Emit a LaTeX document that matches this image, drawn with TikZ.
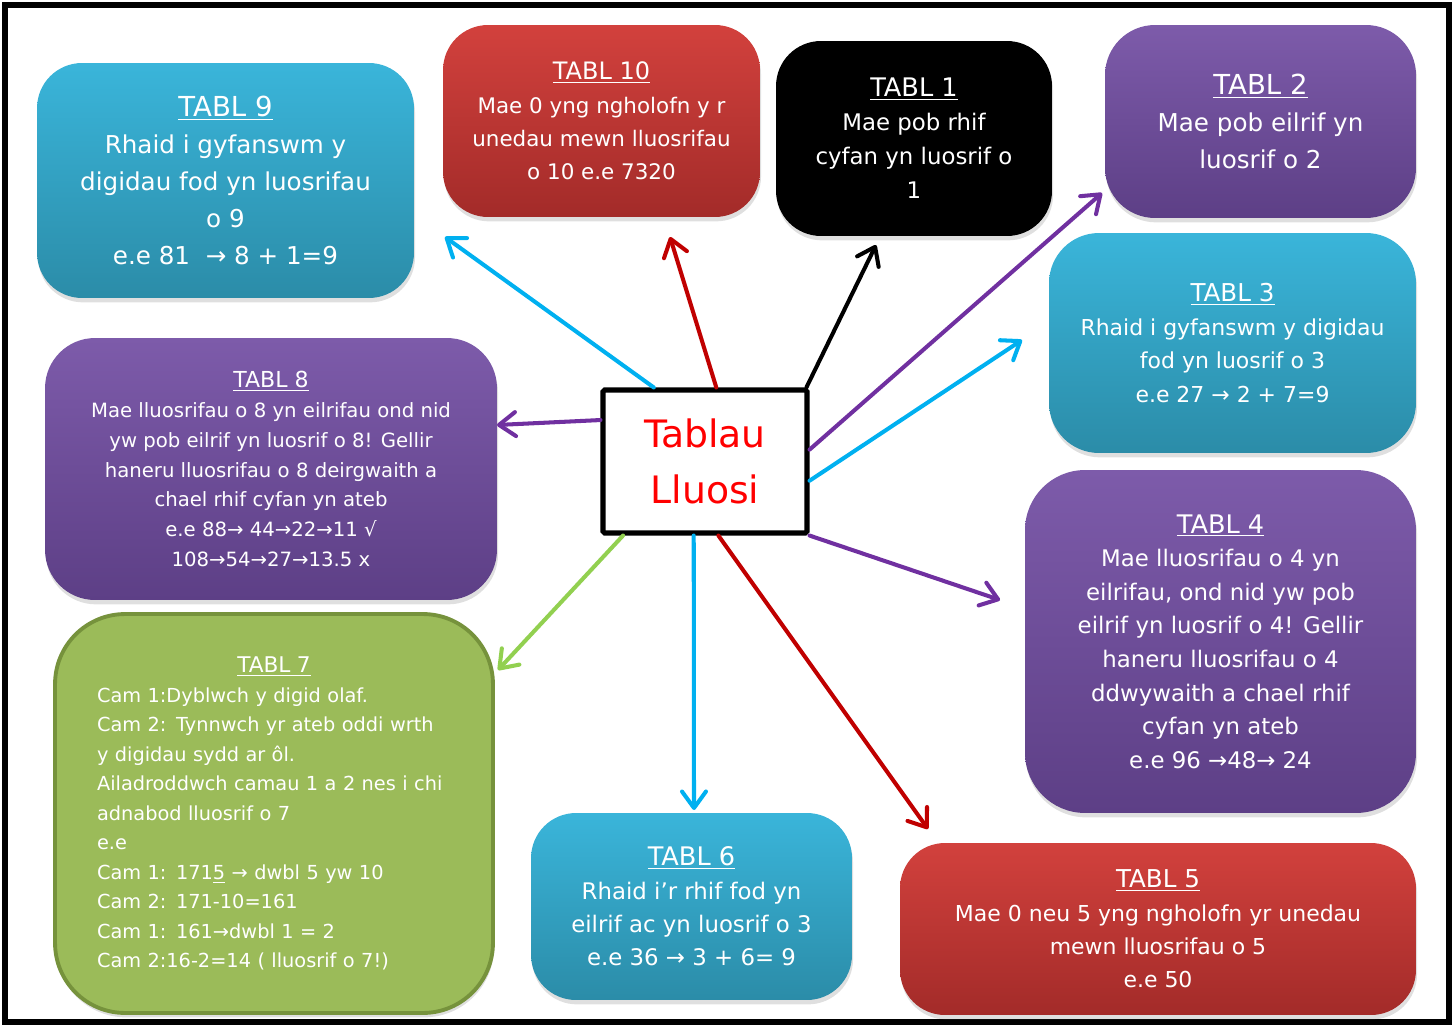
\documentclass[tikz,border=0pt]{standalone}
\usepackage{fontspec}
\setmainfont{DejaVu Sans}
\usetikzlibrary{arrows.meta,calc,shadows}
\definecolor{cyT}{HTML}{3AB5DA}
\definecolor{cyB}{HTML}{2B8CA8}
\definecolor{rdT}{HTML}{D2413D}
\definecolor{rdB}{HTML}{A32B29}
\definecolor{puT}{HTML}{7D5BAA}
\definecolor{puB}{HTML}{5D3F86}
\definecolor{grF}{HTML}{9BBB59}
\definecolor{grD}{HTML}{76923C}
\definecolor{aCy}{HTML}{00B0F0}
\definecolor{aRd}{HTML}{C00000}
\definecolor{aPu}{HTML}{7030A0}
\definecolor{aGr}{HTML}{92D050}
\tikzset{
  tbox/.style={rounded corners=0.9cm, text=white, align=center, inner sep=0pt,
    drop shadow={opacity=0.25, shadow xshift=0.6pt, shadow yshift=-2.5pt}},
  cyanbox/.style={tbox, top color=cyT, bottom color=cyB},
  redbox/.style={tbox, top color=rdT, bottom color=rdB},
  purbox/.style={tbox, top color=puT, bottom color=puB},
  conn/.style={line width=2.3pt, line cap=round,
    -{Straight Barb[length=0.33cm,width=0.48cm,line cap=round,line join=round]}},
}
\newcommand{\fs}[2]{\fontsize{#1pt}{#2pt}\selectfont}
\newcommand{\ttl}[1]{{\fontsize{1.12em}{1em}\selectfont\underline{#1}}}
\begin{document}
\begin{tikzpicture}[x=0.02cm,y=-0.02cm]
\useasboundingbox (0,0) rectangle (1456,1027);
\draw[line width=2.9pt] (5,5) rectangle (1449,1022);

% boxes
\node[cyanbox, minimum width=7.54cm, minimum height=4.70cm, font=\fs{14}{21}] (b9) at (225.5,180.5)
  {\ttl{TABL 9}\\Rhaid i gyfanswm y\\digidau fod yn luosrifau\\o 9\\e.e 81\ \ → 8 + 1=9};
\node[redbox, minimum width=6.34cm, minimum height=3.84cm, font=\fs{12.2}{19}] (b10) at (601.5,121)
  {\ttl{TABL 10}\\Mae 0 yng ngholofn y r\\unedau mewn lluosrifau\\o 10 e.e 7320};
\node[tbox, fill=black, drop shadow={opacity=0}, minimum width=5.52cm, minimum height=3.90cm, font=\fs{13}{19.3}] (b1) at (914,138.5)
  {\ttl{TABL 1}\\Mae pob rhif\\cyfan yn luosrif o\\1};
\node[purbox, rounded corners=1cm, minimum width=6.22cm, minimum height=3.86cm, font=\fs{14}{21}] (b2) at (1260.5,121.5)
  {\ttl{TABL 2}\\Mae pob eilrif yn\\luosrif o 2};
\node[cyanbox, rounded corners=1cm, minimum width=7.34cm, minimum height=4.40cm, font=\fs{12.5}{19.3}] (b3) at (1232.5,343)
  {\ttl{TABL 3}\\Rhaid i gyfanswm y digidau\\fod yn luosrif o 3\\e.e 27 → 2 + 7=9};
\node[purbox, rounded corners=1cm, minimum width=9.04cm, minimum height=5.24cm, font=\fs{11.2}{17}] (b8) at (271,469)
  {\ttl{TABL 8}\\Mae lluosrifau o 8 yn eilrifau ond nid\\yw pob eilrif yn luosrif o 8! Gellir\\haneru lluosrifau o 8 deirgwaith a\\chael rhif cyfan yn ateb\\e.e 88→ 44→22→11 √\\108→54→27→13.5 x};
\node[purbox, rounded corners=1.2cm, minimum width=7.82cm, minimum height=6.86cm, font=\fs{13}{19.1}] (b4) at (1220.5,641.5)
  {\ttl{TABL 4}\\Mae lluosrifau o 4 yn\\eilrifau, ond nid yw pob\\eilrif yn luosrif o 4! Gellir\\haneru lluosrifau o 4\\ddwywaith a chael rhif\\cyfan yn ateb\\e.e 96 →48→ 24};
\node[tbox, fill=grF, draw=grD, line width=2.2pt, rounded corners=1.4cm, minimum width=8.76cm, minimum height=7.98cm,
      text width=7.08cm, align=left, font=\fs{11}{16.8}] (b7) at (274,813.5)
  {\makebox[\linewidth]{\ttl{TABL 7}}\\
   Cam 1:Dyblwch y digid olaf.\\
   Cam 2: Tynnwch yr ateb oddi wrth\\
   y digidau sydd ar ôl.\\
   Ailadroddwch camau 1 a 2 nes i chi\\
   adnabod lluosrif o 7\\
   e.e\\
   Cam 1: 171\underline{5} → dwbl 5 yw 10\\
   Cam 2: 171-10=161\\
   Cam 1: 161→dwbl 1 = 2\\
   Cam 2:16-2=14 ( lluosrif o 7!)};
\node[cyanbox, minimum width=6.42cm, minimum height=3.74cm, font=\fs{13}{19}] (b6) at (691.5,906.5)
  {\ttl{TABL 6}\\Rhaid i’r rhif fod yn\\eilrif ac yn luosrif o 3\\e.e 36 → 3 + 6= 9};
\node[redbox, minimum width=10.32cm, minimum height=3.44cm, font=\fs{12.5}{19}] (b5) at (1158,929)
  {\ttl{TABL 5}\\Mae 0 neu 5 yng ngholofn yr unedau\\mewn lluosrifau o 5\\e.e 50};

% centre
\node[draw=black, fill=white, line width=2.9pt, rounded corners=1pt, minimum width=4.08cm, minimum height=2.86cm,
      align=center, text=red, font=\fs{21.5}{32}] (c) at (705,461.5) {Tablau\\Lluosi};

% arrow end points
\coordinate (e9) at (445,237);
\coordinate (e10) at (670,237);
\coordinate (e1) at (876,245);
\coordinate (e2) at (1102,193);
\coordinate (e3) at (1022,340);
\coordinate (e8) at (497,425);
\coordinate (e4) at (1000,600);
\coordinate (e7) at (498,670);
\coordinate (e6) at (694,810);
\coordinate (e5) at (928,829);

\draw[conn, aCy] ($(c.north west)!0.255!(c.north east)$) -- (e9);
\draw[conn, aRd] ($(c.north west)!0.554!(c.north east)$) -- (e10);
\draw[conn, black] ($(c.north west)!0.985!(c.north east)$) -- (e1);
\draw[conn, aPu] ($(c.north east)!0.42!(c.south east)$) -- (e2);
\draw[conn, aCy] ($(c.north east)!0.63!(c.south east)$) -- (e3);
\draw[conn, aPu] ($(c.north west)!0.22!(c.south west)$) -- (e8);
\draw[conn, aPu] (c.south east) -- (e4);
\draw[conn, aGr] ($(c.south west)!0.108!(c.south east)$) -- (e7);
\draw[conn, aCy] ($(c.south west)!0.446!(c.south east)$) -- (e6);
\draw[conn, aRd] ($(c.south west)!0.564!(c.south east)$) -- (e5);
\end{tikzpicture}
\end{document}
